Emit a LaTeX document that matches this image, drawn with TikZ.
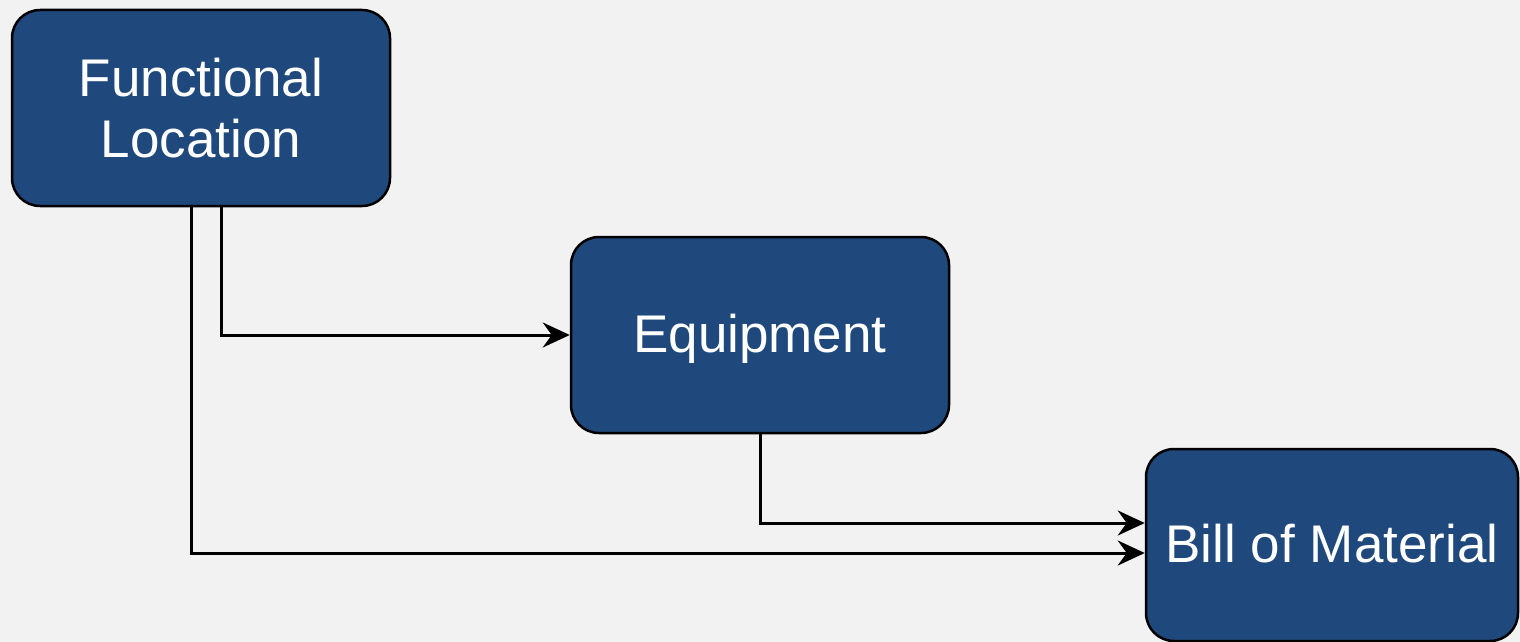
\documentclass[tikz,border=0pt]{standalone}
\usepackage{fontspec}
\setmainfont{Liberation Sans}
\usetikzlibrary{arrows.meta}
\definecolor{boxblue}{RGB}{31,73,125}
\definecolor{bg}{RGB}{242,242,242}
\begin{document}
\begin{tikzpicture}[x=1pt,y=-1pt,
  box/.style={draw=black, line width=2.5pt, fill=boxblue, rounded corners=28pt,
    minimum width=378pt, minimum height=196pt, inner sep=0pt, text=white,
    align=center, font=\fontsize{53}{61}\selectfont},
  oneline/.style={text height=38pt, text depth=3pt},
  conn/.style={draw=black, line width=3pt, -{Stealth[length=27pt,width=25pt,inset=9pt]}}]
\fill[bg] (0,0) rectangle (1520,642);
\useasboundingbox (0,0) rectangle (1520,642);
\node[box] (fl) at (201,108) {Functional\\Location};
\node[box, oneline] (eq) at (760,335) {Equipment};
\node[box, oneline, minimum width=372pt, minimum height=192pt] (bom) at (1332,545) {Bill of Material};
\draw[conn] ([xshift=20pt]fl.south) |- (eq.west);
\draw[conn] ([xshift=-10pt]fl.south) |- ([yshift=-8pt]bom.west);
\draw[conn] (eq.south) |- ([yshift=22pt]bom.west);
\end{tikzpicture}
\end{document}
